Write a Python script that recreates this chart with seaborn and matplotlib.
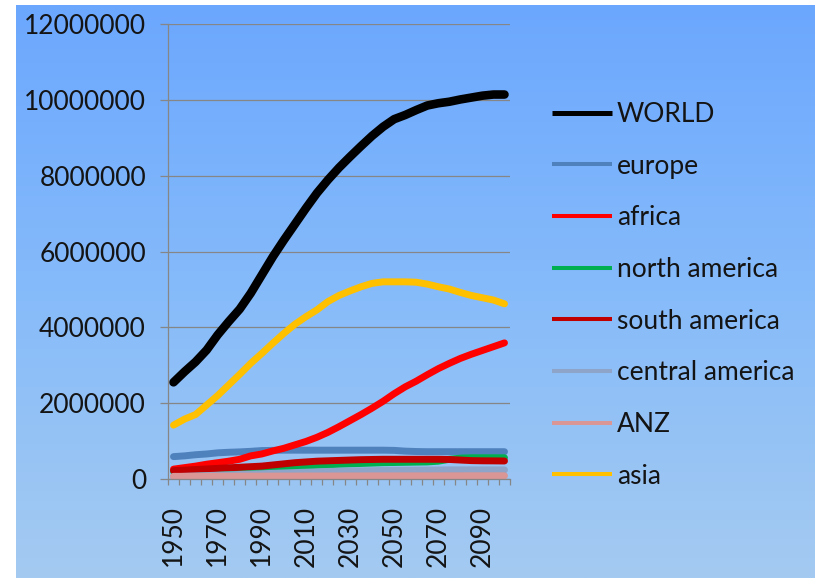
import numpy as np
import pandas as pd
import matplotlib
matplotlib.use("Agg")
import matplotlib.pyplot as plt
from matplotlib.lines import Line2D
from matplotlib.colors import LinearSegmentedColormap
from matplotlib.ticker import FixedLocator, FuncFormatter
import seaborn as sns

# Population (thousands), UN-style projection, 5-year steps
years = list(range(1950, 2101, 5))

world = [2550000, 2830000, 3090000, 3400000, 3800000, 4150000, 4480000, 4900000,
         5380000, 5860000, 6300000, 6720000, 7140000, 7540000, 7890000, 8210000,
         8500000, 8780000, 9050000, 9290000, 9490000, 9600000, 9730000, 9850000,
         9910000, 9950000, 10010000, 10060000, 10110000, 10140000, 10140000]
europe = [590000, 610000, 640000, 660000, 690000, 705000, 715000, 730000,
          750000, 755000, 760000, 760000, 760000, 760000, 760000, 760000,
          760000, 760000, 760000, 760000, 755000, 735000, 725000, 720000,
          720000, 720000, 720000, 720000, 720000, 720000, 720000]
africa = [260000, 300000, 340000, 390000, 430000, 470000, 520000, 610000,
          660000, 740000, 810000, 900000, 990000, 1100000, 1230000, 1380000,
          1540000, 1700000, 1870000, 2050000, 2250000, 2430000, 2580000, 2750000,
          2910000, 3050000, 3180000, 3290000, 3390000, 3490000, 3590000]
north_america = [200000, 215000, 230000, 245000, 255000, 265000, 275000, 285000,
                 295000, 305000, 315000, 330000, 345000, 360000, 375000, 390000,
                 400000, 410000, 420000, 430000, 435000, 440000, 445000, 450000,
                 470000, 520000, 550000, 560000, 560000, 560000, 560000]
south_america = [220000, 235000, 250000, 265000, 280000, 295000, 310000, 325000,
                 340000, 370000, 400000, 430000, 450000, 470000, 480000, 490000,
                 500000, 510000, 515000, 520000, 520000, 520000, 520000, 520000,
                 520000, 515000, 500000, 485000, 480000, 478000, 475000]
central_america = [60000, 70000, 80000, 90000, 100000, 110000, 120000, 130000,
                   140000, 150000, 160000, 170000, 180000, 190000, 200000, 205000,
                   210000, 215000, 220000, 225000, 230000, 232000, 234000, 236000,
                   238000, 240000, 240000, 240000, 240000, 240000, 240000]
anz = [70000, 70000, 72000, 72000, 74000, 74000, 75000, 76000,
       76000, 77000, 78000, 78000, 79000, 80000, 80000, 80000,
       81000, 81000, 82000, 82000, 82000, 83000, 83000, 83000,
       84000, 84000, 84000, 85000, 85000, 85000, 85000]
asia = [1420000, 1580000, 1700000, 1950000, 2200000, 2480000, 2760000, 3050000,
        3310000, 3580000, 3840000, 4080000, 4280000, 4460000, 4680000, 4840000,
        4960000, 5070000, 5160000, 5200000, 5200000, 5200000, 5190000, 5140000,
        5070000, 5010000, 4920000, 4840000, 4780000, 4720000, 4620000]

series_names = ["WORLD", "europe", "africa", "north america", "south america",
                "central america", "ANZ", "asia"]
series_values = [world, europe, africa, north_america, south_america,
                 central_america, anz, asia]
series_colors = ["#000000", "#4F81BD", "#FF0000", "#00B050", "#C00000",
                 "#8EA4C8", "#D99694", "#FFC000"]

year_labels = ["1950", "1970", "1990", "2010", "2030", "2050", "2070", "2090"]

df = pd.DataFrame({"year": years})
for name, vals in zip(series_names, series_values):
    df[name] = vals
df["pos"] = np.arange(len(years))

sns.set_style("white")
plt.rcParams["font.family"] = ["Lato", "DejaVu Sans"]

W, H = 819, 578
fig = plt.figure(figsize=(W / 100, H / 100), dpi=100)
fig.patch.set_facecolor("white")

# gradient backdrop
bg = fig.add_axes([16 / W, 0, (815 - 16) / W, 573 / H])
cmap = LinearSegmentedColormap.from_list("sky", ["#6BA7FE", "#86BBFA", "#A4CAF1"])
bg.imshow(np.linspace(0, 1, 256)[:, None], aspect="auto", cmap=cmap,
          extent=[0, 1, 0, 1])
bg.set_axis_off()

ax = fig.add_axes([168 / W, 1 - 479 / H, (510 - 168) / W, (479 - 24) / H])
ax.patch.set_alpha(0)

grid_gray = "#868686"
text_color = "#141414"
for name, color in zip(series_names, series_colors):
    lw = 6.2 if name == "WORLD" else 5.0
    sns.lineplot(data=df, x="pos", y=name, ax=ax, color=color, linewidth=lw,
                 solid_capstyle="round", solid_joinstyle="round", legend=False)

ax.set_xlim(-0.5, len(years) - 0.5)
ax.set_ylim(0, 12000000)
ax.set_xlabel("")
ax.set_ylabel("")

ax.yaxis.set_major_locator(FixedLocator(np.arange(0, 12000001, 2000000)))
ax.yaxis.set_major_formatter(FuncFormatter(lambda v, p: f"{int(v)}"))
label_pos = [years.index(int(y)) for y in year_labels]
ax.xaxis.set_major_locator(FixedLocator(label_pos))
ax.set_xticklabels(year_labels, rotation=90)
ax.xaxis.set_minor_locator(FixedLocator(np.arange(-0.5, len(years), 1.0)))

ax.tick_params(axis="x", which="major", length=0, pad=19, labelsize=19,
               labelcolor=text_color)
ax.tick_params(axis="x", which="minor", length=4.5, width=0.9, color=grid_gray,
               direction="out", bottom=True)
ax.tick_params(axis="y", which="major", length=5.8, width=0.9, color=grid_gray,
               direction="out", pad=10, labelsize=19, labelcolor=text_color,
               left=True)

ax.yaxis.grid(True, color=grid_gray, linewidth=0.9)
ax.xaxis.grid(False)
ax.set_axisbelow(True)
for side in ["top", "right"]:
    ax.spines[side].set_visible(False)
for side in ["left", "bottom"]:
    ax.spines[side].set_color(grid_gray)
    ax.spines[side].set_linewidth(0.9)

handles = [Line2D([], [], color=c, linewidth=(3.6 if n == "WORLD" else 2.9),
                  solid_capstyle="butt")
           for n, c in zip(series_names, series_colors)]
fig.legend(handles, series_names, loc="upper left",
           bbox_to_anchor=(552 / W, 1 - 102 / H), frameon=False,
           fontsize=19, handlelength=2.27, handletextpad=0.19,
           labelspacing=1.01, borderpad=0, borderaxespad=0,
           labelcolor=text_color)

fig.savefig("out.png", dpi=100)
